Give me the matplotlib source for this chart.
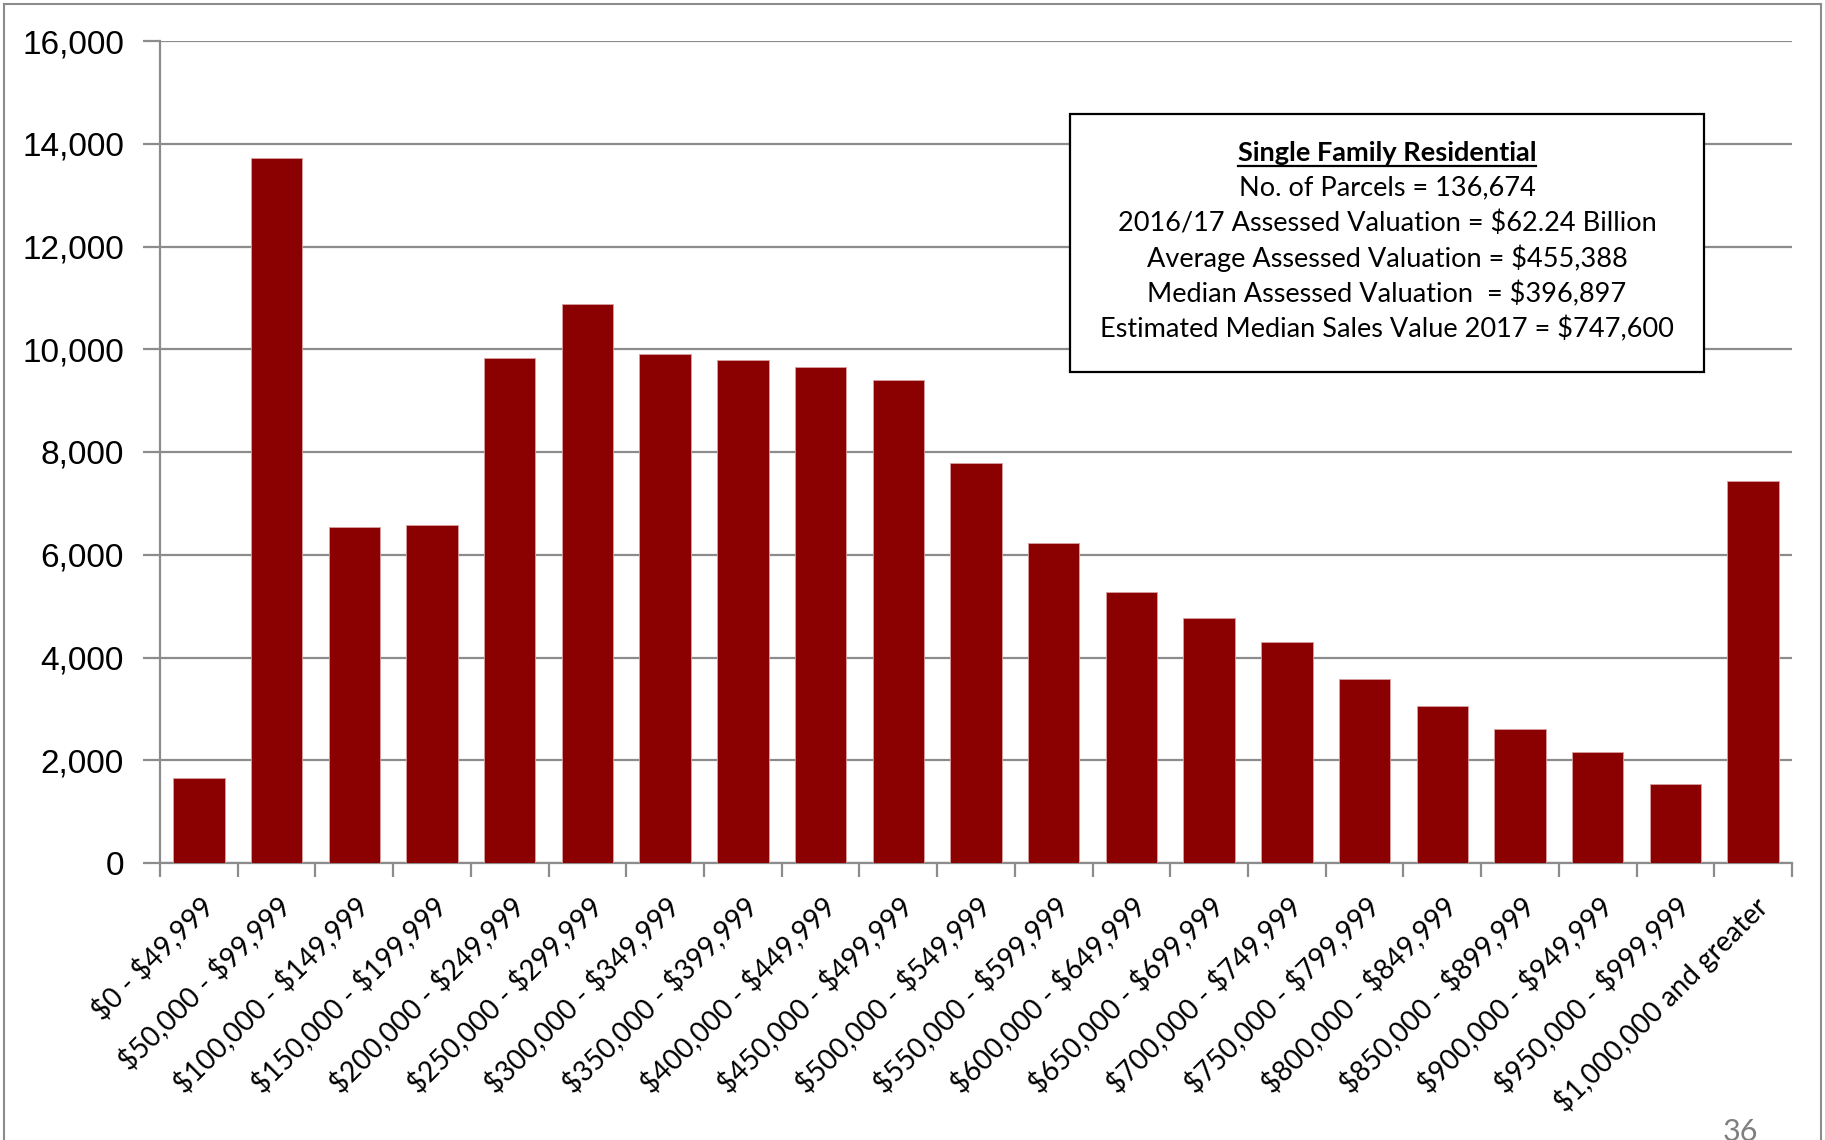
import matplotlib.pyplot as plt
from matplotlib.lines import Line2D
import numpy as np

categories = ['$0 - $49,999', '$50,000 - $99,999', '$100,000 - $149,999', '$150,000 - $199,999',
              '$200,000 - $249,999', '$250,000 - $299,999', '$300,000 - $349,999', '$350,000 - $399,999',
              '$400,000 - $449,999', '$450,000 - $499,999', '$500,000 - $549,999', '$550,000 - $599,999',
              '$600,000 - $649,999', '$650,000 - $699,999', '$700,000 - $749,999', '$750,000 - $799,999',
              '$800,000 - $849,999', '$850,000 - $899,999', '$900,000 - $949,999', '$950,000 - $999,999',
              '$1,000,000 and greater']
parcels = [1650, 13730, 6540, 6585, 9820, 10880, 9910, 9800, 9660, 9410, 7780,
           6220, 5270, 4775, 4300, 3575, 3055, 2600, 2170, 1540, 7445]
y_ticks = [0, 2000, 4000, 6000, 8000, 10000, 12000, 14000, 16000]

box_title = 'Single Family Residential'
box_lines = ['No. of Parcels = 136,674',
             '2016/17 Assessed Valuation = $62.24 Billion',
             'Average Assessed Valuation = $455,388',
             'Median Assessed Valuation  = $396,897',
             'Estimated Median Sales Value 2017 = $747,600']

grey = '#8c8c8c'
red = '#8b0000'
W, H = 1825, 1140

fig = plt.figure(figsize=(18.25, 11.4), dpi=100)
ax = fig.add_axes([160 / W, 1 - 863 / H, (1792 - 160) / W, (863 - 41) / H])

x = np.arange(len(categories))
ax.bar(x, parcels, width=0.66, color=red, edgecolor='#d9a0a0', linewidth=0.6, zorder=3)

ax.set_xlim(-0.5, len(categories) - 0.5)
ax.set_ylim(0, 16000)
ax.set_yticks(y_ticks)
ax.set_yticklabels([f'{v:,}' for v in y_ticks], fontsize=24, family='Liberation Sans')
ax.yaxis.grid(True, color=grey, linewidth=1.6, zorder=0)

# ticks at category boundaries, labels at bar centres
ax.set_xticks(np.arange(len(categories) + 1) - 0.5)
ax.set_xticklabels([])
ax.set_xticks(x, minor=True)
ax.set_xticklabels(categories, minor=True, rotation=45, ha='right', va='top',
                   rotation_mode='anchor', fontsize=20, family='Lato')
for lbl in ax.get_xticklabels(minor=True):
    lbl.set_parse_math(False)
ax.tick_params(axis='x', which='minor', length=0, pad=21)
ax.tick_params(axis='x', which='major', length=10, width=1.6, color=grey)
ax.tick_params(axis='y', length=12, width=1.6, color=grey, pad=14)

for side in ['top', 'right']:
    ax.spines[side].set_visible(False)
for side in ['left', 'bottom']:
    ax.spines[side].set_color(grey)
    ax.spines[side].set_linewidth(1.6)

# info box
bx0, by0, bx1, by1 = 1070 / W, 1 - 372 / H, 1704 / W, 1 - 114 / H
fig.patches.append(plt.Rectangle((bx0, by0), bx1 - bx0, by1 - by0, transform=fig.transFigure,
                                 facecolor='white', edgecolor='black', linewidth=1.6, zorder=5))
cx = (bx0 + bx1) / 2
ty = 1 - 153 / H
title = fig.text(cx, ty, box_title, ha='center', va='center', fontsize=19.5, family='Lato',
                 fontweight='bold', zorder=6)
for i, line in enumerate(box_lines):
    fig.text(cx, ty - (i + 1) * 35.2 / H, line, ha='center', va='center', fontsize=19.5,
             family='Lato', zorder=6, parse_math=False)

fig.canvas.draw()
bb = title.get_window_extent()
fig.add_artist(Line2D([bb.x0 / W, bb.x1 / W], [(bb.y0 - 1) / H] * 2, color='black',
                      linewidth=1.6, zorder=6))

# slide frame and page number
for xs, ys in [([4, 4], [0, 1136]), ([4, 1821], [1136, 1136]), ([1821, 1821], [0, 1136])]:
    fig.add_artist(Line2D([v / W for v in xs], [v / H for v in ys], color=grey, linewidth=1.5))
fig.text(1740 / W, -6 / H, '36', ha='center', va='bottom', fontsize=22, color='#7f7f7f',
         family='Lato')

fig.savefig('out.png', dpi=100)
